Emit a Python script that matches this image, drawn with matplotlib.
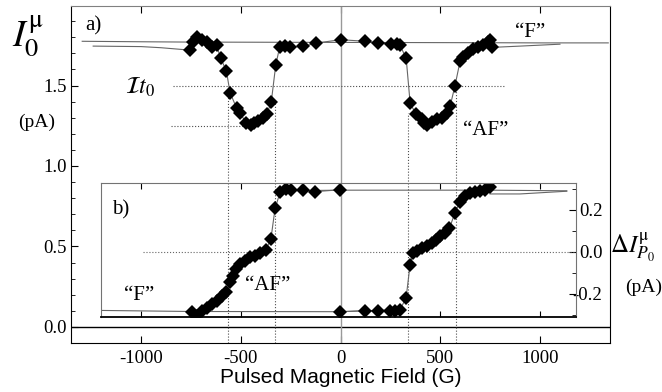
import matplotlib
matplotlib.use("Agg")
import matplotlib.pyplot as plt
from matplotlib.ticker import MultipleLocator

plt.rcParams['font.family'] = ['Liberation Serif', 'DejaVu Serif']
plt.rcParams['mathtext.fontset'] = 'stix'
plt.rcParams['axes.unicode_minus'] = False

# a) I0 vs pulsed field, diamonds
field_a = [-755, -738, -721, -696, -671, -646, -621, -601, -572, -554, -521, -504,
           -472, -450, -435, -412, -390, -370, -347, -325, -305, -279, -252, -187,
           -125, 0, 123, 190, 253, 282, 298, 329, 349, 379, 407, 420, 432, 457,
           482, 507, 532, 549, 574, 599, 616, 641, 666, 691, 716, 738, 750, 758]
curr_a = [1.72, 1.77, 1.80, 1.78, 1.77, 1.74, 1.75, 1.67, 1.59, 1.456, 1.36, 1.33,
          1.265, 1.255, 1.265, 1.28, 1.30, 1.32, 1.40, 1.625, 1.74, 1.747, 1.74, 1.743,
          1.763, 1.785, 1.775, 1.765, 1.757, 1.757, 1.75, 1.67, 1.39, 1.32, 1.29, 1.265,
          1.255, 1.275, 1.29, 1.30, 1.33, 1.37, 1.50, 1.65, 1.68, 1.70, 1.725, 1.74,
          1.75, 1.77, 1.78, 1.737]
# reference trace ("F" state) and tails of the swept trace
base_x = [-1295, -1000, -750, 0, 750, 1000, 1342]
base_y = [1.775, 1.772, 1.77, 1.768, 1.766, 1.765, 1.765]
tail_l_x = [-1240, -1000, -900, -755]
tail_l_y = [1.745, 1.742, 1.735, 1.72]
tail_r_x = [758, 900, 1100]
tail_r_y = [1.737, 1.745, 1.757]

# b) difference signal, negative-field branch and positive-field branch
field_bn = [-746, -725, -696, -671, -646, -621, -596, -574, -554, -541, -524, -504,
            -479, -454, -429, -404, -374, -349, -328, -303, -273, -248, -187, -128, 0]
diff_bn = [-0.289, -0.305, -0.281, -0.27, -0.249, -0.233, -0.21, -0.19, -0.146, -0.114,
           -0.082, -0.059, -0.043, -0.027, -0.019, -0.006, 0.01, 0.06, 0.206, 0.282,
           0.299, 0.295, 0.295, 0.286, 0.295]
field_bp = [0, 123, 190, 248, 273, 298, 329, 349, 365, 385, 407, 432, 457, 479, 499,
            524, 546, 574, 599, 624, 649, 674, 700, 725, 750]
diff_bp = [-0.286, -0.281, -0.281, -0.281, -0.281, -0.276, -0.222, -0.063, -0.006,
           0.005, 0.016, 0.029, 0.041, 0.057, 0.073, 0.089, 0.111, 0.184, 0.238, 0.267,
           0.28, 0.286, 0.29, 0.295, 0.306]
low_x = [-1200, -750, 0, 298]
low_y = [-0.28, -0.285, -0.286, -0.276]
high_x = [-303, 0, 750, 1135]
high_y = [0.29, 0.293, 0.293, 0.29]
tail_b_x = [750, 900, 1135]
tail_b_y = [0.275, 0.275, 0.288]

line_c = '0.4'

fig = plt.figure(figsize=(6.62, 3.92), dpi=100)
ax = fig.add_axes([0.1073, 0.125, 0.8142, 0.86])
ax.set_xlim(-1351, 1351)
ax.set_ylim(-0.1, 1.995)

ax.axhline(0, color='k', lw=1.0)
ax.axvline(0, color='0.6', lw=1.0)

# guide lines
ax.plot([-840, 825], [1.5, 1.5], ls=':', color='0.3', lw=0.8)
ax.plot([-850, -440], [1.25, 1.25], ls=':', color='0.3', lw=0.8)
for xv, top in [(-566, 1.44), (-327, 1.40), (337, 1.33), (579, 1.48)]:
    ax.plot([xv, xv], [-0.1, top], ls=':', color='0.3', lw=0.8)

ax.plot(base_x, base_y, color=line_c, lw=0.8)
ax.plot(tail_l_x, tail_l_y, color=line_c, lw=0.8)
ax.plot(tail_r_x, tail_r_y, color=line_c, lw=0.8)
ax.plot(field_a, curr_a, color=line_c, lw=0.8)
ax.plot(field_a, curr_a, 'D', color='k', ms=7.5, mew=0)

ax.set_yticks([0, 0.5, 1.0, 1.5])
ax.yaxis.set_minor_locator(MultipleLocator(0.1))
ax.set_xticks([-1000, -500, 0, 500, 1000])
ax.tick_params(axis='both', which='both', direction='in', labelsize=13.5)
ax.tick_params(axis='x', top=True, pad=5)
ax.tick_params(axis='y', pad=3)
ax.tick_params(which='major', length=5)
ax.tick_params(which='minor', length=3)
ax.spines['top'].set_color('0.5')

ax.text(-1281, 1.84, 'a)', fontsize=15)
ax.text(875, 1.80, '\u201cF\u201d', fontsize=15)
ax.text(614, 1.19, '\u201cAF\u201d', fontsize=15)
ax.text(-1081, 1.45, r'$\mathcal{I}t_0$', fontsize=17)
ax.text(-1146, 0.70, 'b)', fontsize=15)
ax.text(-1085, 0.167, '\u201cF\u201d', fontsize=15)
ax.text(-479, 0.229, '\u201cAF\u201d', fontsize=15)

# inset b)
axb = fig.add_axes([0.1526, 0.192, 0.7174, 0.340])
axb.patch.set_alpha(0)
axb.set_xlim(-1201, 1181)
axb.set_ylim(-0.31, 0.325)
axb.plot([-988, 1181], [0, 0], ls=':', color='0.4', lw=0.8)
axb.plot(low_x, low_y, color=line_c, lw=0.8)
axb.plot(high_x, high_y, color=line_c, lw=0.8)
axb.plot(tail_b_x, tail_b_y, color=line_c, lw=0.8)
axb.plot(field_bn, diff_bn, color=line_c, lw=0.8)
axb.plot(field_bp, diff_bp, color=line_c, lw=0.8)
axb.plot(field_bn, diff_bn, 'D', color='k', ms=7.5, mew=0)
axb.plot(field_bp, diff_bp, 'D', color='k', ms=7.5, mew=0)

axb.set_xticks([-1000, -500, 0, 500, 1000])
axb.set_yticks([-0.2, 0.0, 0.2])
axb.yaxis.set_minor_locator(MultipleLocator(0.1))
axb.yaxis.tick_right()
axb.tick_params(axis='x', which='both', direction='in', top=True, bottom=True,
                labelbottom=False, length=4)
axb.tick_params(axis='y', which='both', direction='in', left=False, right=True,
                labelsize=13.5, pad=19)
axb.tick_params(axis='y', which='major', length=5)
axb.tick_params(axis='y', which='minor', length=3)
for lbl in axb.get_yticklabels():
    lbl.set_horizontalalignment('right')
for side in ['top', 'left', 'right']:
    axb.spines[side].set_color('0.45')
axb.spines['bottom'].set_linewidth(1.3)

fig.text(0.018, 0.88, r'$I_0^{\mathrm{\mu}}$', fontsize=27, va='baseline')
fig.text(0.055, 0.676, '(pA)', fontsize=14, ha='center', va='baseline')
fig.text(0.921, 0.355, r'$\Delta I_{P_0}^{\mathrm{\mu}}$', fontsize=18, va='baseline')
fig.text(0.944, 0.255, '(pA)', fontsize=14, va='baseline')
fig.text(0.515, 0.023, 'Pulsed Magnetic Field (G)', fontsize=15,
         family='Liberation Sans', ha='center', va='baseline')

fig.savefig('out.png', dpi=100)
